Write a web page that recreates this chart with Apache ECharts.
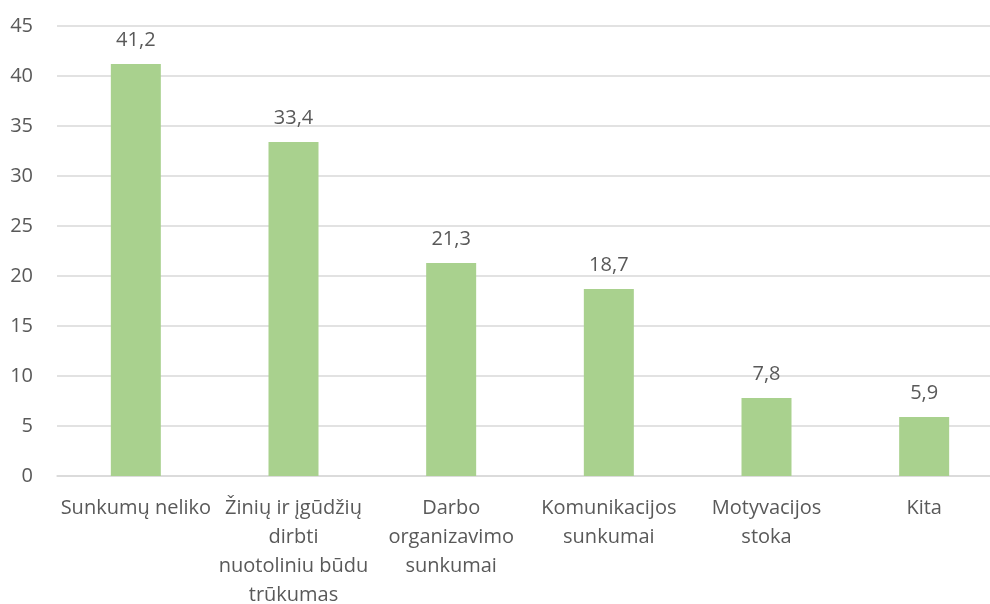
<!DOCTYPE html>
<html>
<head>
<meta charset="utf-8">
<script src="https://cdn.jsdelivr.net/npm/echarts@6/dist/echarts.min.js"></script>
<style>
  html, body { margin: 0; padding: 0; background: #fff; }
  #chart { width: 990px; height: 604px; }
</style>
</head>
<body>
<div id="chart"></div>
<script>
// kategorijos (eilutės laužomos kaip originale)
const categories = [
  'Sunkumų neliko',
  'Žinių ir įgūdžių\ndirbti\nnuotoliniu būdu\ntrūkumas',
  'Darbo\norganizavimo\nsunkumai',
  'Komunikacijos\nsunkumai',
  'Motyvacijos\nstoka',
  'Kita'
];
const values = [41.2, 33.4, 21.3, 18.7, 7.8, 5.9];
const yTicks = [0, 5, 10, 15, 20, 25, 30, 35, 40, 45];

const textColor = '#595959';
const font = '"Open Sans", Lato, sans-serif';

const chart = echarts.init(document.getElementById('chart'));
chart.setOption({
  animation: false,
  grid: {
    left: 57, top: 26, width: 946, bottom: 128,
    containLabel: false, outerBoundsMode: 'none'
  },
  xAxis: {
    type: 'category',
    data: categories,
    axisTick: { show: false },
    axisLine: { lineStyle: { color: '#D9D9D9', width: 1.5 } },
    axisLabel: {
      interval: 0,
      color: textColor,
      fontFamily: font,
      fontSize: 20,
      lineHeight: 29,
      margin: 18
    }
  },
  yAxis: {
    type: 'value',
    min: yTicks[0],
    max: yTicks[yTicks.length - 1],
    interval: 5,
    axisLine: { show: false },
    axisTick: { show: false },
    splitLine: { lineStyle: { color: '#D9D9D9', width: 1.5 } },
    axisLabel: {
      color: textColor,
      fontFamily: font,
      fontSize: 20,
      margin: 24
    }
  },
  series: [{
    type: 'bar',
    data: values,
    barWidth: 50,
    itemStyle: { color: '#A9D18E' },
    label: {
      show: true,
      position: 'top',
      distance: 14,
      color: textColor,
      fontFamily: font,
      fontSize: 20,
      formatter: p => String(p.value).replace('.', ',')
    }
  }]
});
window.addEventListener('resize', function () {
  chart.resize();
});
</script>
</body>
</html>
